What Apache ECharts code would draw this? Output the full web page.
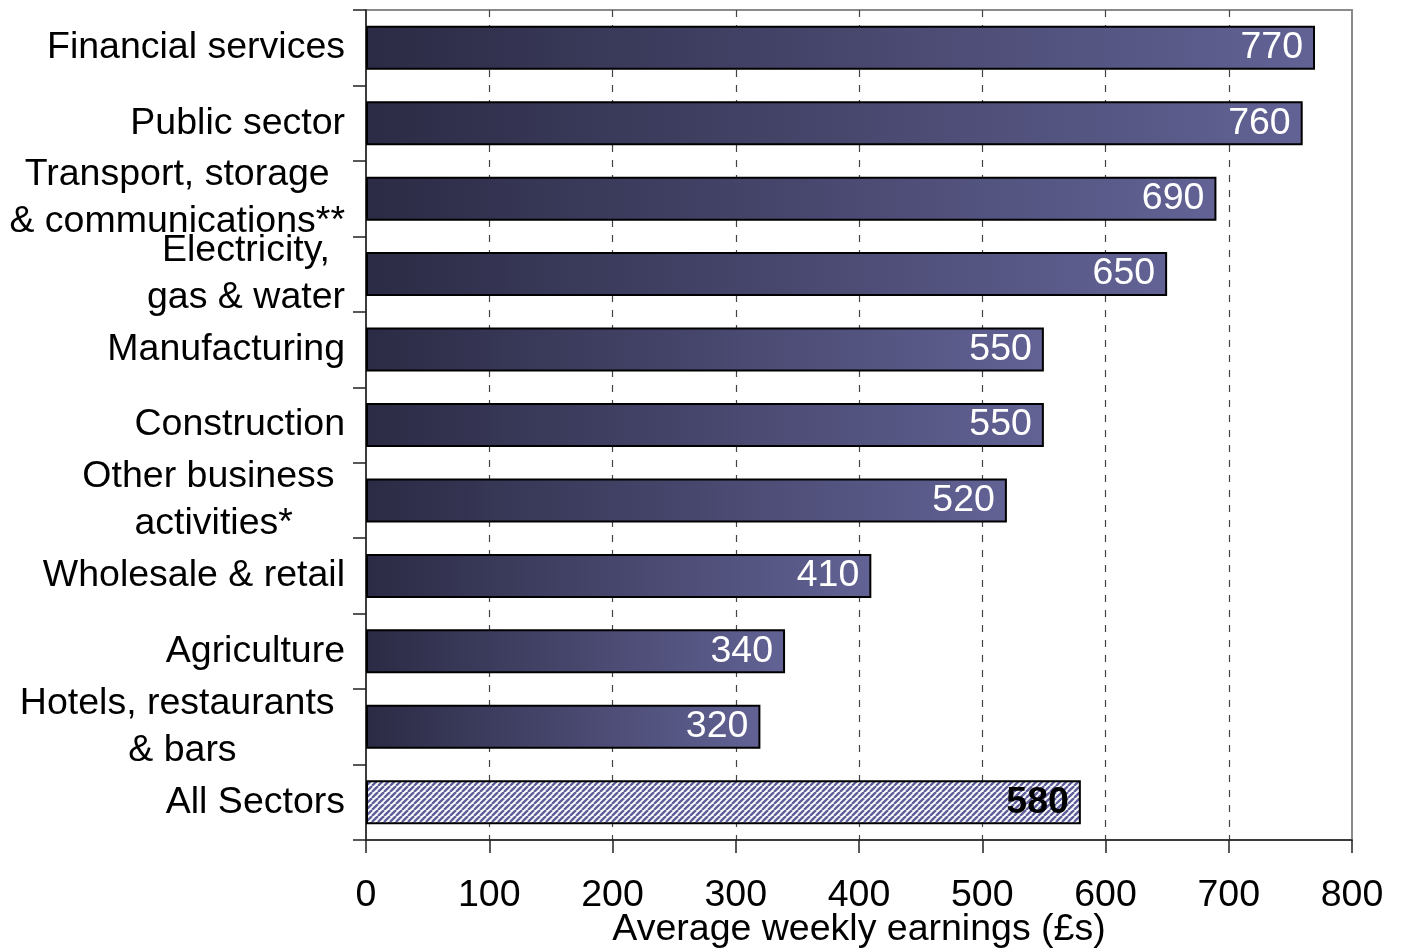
<!DOCTYPE html>
<html>
<head>
<meta charset="utf-8">
<script src="https://cdn.jsdelivr.net/npm/echarts@6/dist/echarts.min.js"></script>
<style>
html,body{margin:0;padding:0;background:#fff;}
#chart{width:1402px;height:951px;}
</style>
</head>
<body>
<div id="chart"></div>
<script>
const categories = [
  'Financial services',
  'Public sector',
  'Transport, storage\n& communications**',
  'Electricity,\ngas & water',
  'Manufacturing',
  'Construction',
  'Other business \nactivities*',
  'Wholesale & retail',
  'Agriculture',
  'Hotels, restaurants \n& bars',
  'All Sectors'
];
const values = [770, 760, 690, 650, 550, 550, 520, 410, 340, 320, 580];
const xTicks = [0, 100, 200, 300, 400, 500, 600, 700, 800];
const xTitle = 'Average weekly earnings (£s)';

const FONT = "'Liberation Sans', Arial, sans-serif";
const FS = 37.5;

// hatch pattern for the "All Sectors" bar
function makeHatch() {
  const s = 6;
  const c = document.createElement('canvas');
  c.width = s; c.height = s;
  const ctx = c.getContext('2d');
  ctx.fillStyle = '#ffffff';
  ctx.fillRect(0, 0, s, s);
  ctx.strokeStyle = '#5e5e9a';
  ctx.lineWidth = 2.4;
  for (let k = -1; k <= 1; k++) {
    ctx.beginPath();
    ctx.moveTo(k * s, s);
    ctx.lineTo(k * s + s, 0);
    ctx.stroke();
  }
  return c;
}

const gradient = new echarts.graphic.LinearGradient(0, 0, 1, 0, [
  { offset: 0, color: '#2b2b45' },
  { offset: 1, color: '#626295' }
]);

const lastIdx = values.length - 1;
const barData = values.map((v, i) => {
  if (i === lastIdx) {
    return {
      value: v,
      itemStyle: { color: { image: makeHatch(), repeat: 'repeat' } },
      label: { color: '#000', fontWeight: 'bold' }
    };
  }
  return { value: v };
});

const chart = echarts.init(document.getElementById('chart'));
chart.setOption({
  backgroundColor: '#fff',
  animation: false,
  grid: {
    left: 366, right: 50, top: 10, bottom: 111,
    outerBoundsMode: 'none',
    containLabel: false,
    show: true, borderColor: '#8a8a8a', borderWidth: 2, backgroundColor: 'transparent'
  },
  xAxis: {
    type: 'value',
    min: xTicks[0],
    max: xTicks[xTicks.length - 1],
    interval: 100,
    name: xTitle,
    nameLocation: 'middle',
    nameMoveOverlap: false,
    nameGap: 71,
    nameTextStyle: { fontSize: FS, color: '#000', fontFamily: FONT },
    axisLine: { show: true, lineStyle: { color: '#222', width: 1.5 } },
    axisTick: { show: true, length: 13, lineStyle: { color: '#222', width: 1.5 } },
    axisLabel: { fontSize: FS, color: '#000', fontFamily: FONT, margin: 37 },
    splitLine: { show: true, showMaxLine: false, showMinLine: false, lineStyle: { color: '#444', width: 1.2, type: [7, 8] } }
  },
  yAxis: {
    type: 'category',
    data: categories,
    inverse: true,
    axisLine: { show: true, lineStyle: { color: '#222', width: 1.5 } },
    axisTick: { show: true, length: 13, lineStyle: { color: '#222', width: 1.5 } },
    axisLabel: {
      margin: 21,
      formatter: function (val) {
        return val.split('\n').map(l => '{c|' + l + '}').join('\n');
      },
      rich: {
        c: { fontSize: FS, color: '#000', fontFamily: FONT, lineHeight: 47, align: 'center' }
      }
    },
    splitLine: { show: false }
  },
  series: [{
    type: 'bar',
    data: barData,
    barWidth: 44,
    itemStyle: { color: gradient, borderColor: '#000', borderWidth: 2 },
    label: {
      show: true,
      position: 'insideRight',
      distance: 12,
      color: '#fff',
      fontSize: FS,
      fontFamily: FONT
    }
  }]
});
</script>
</body>
</html>
